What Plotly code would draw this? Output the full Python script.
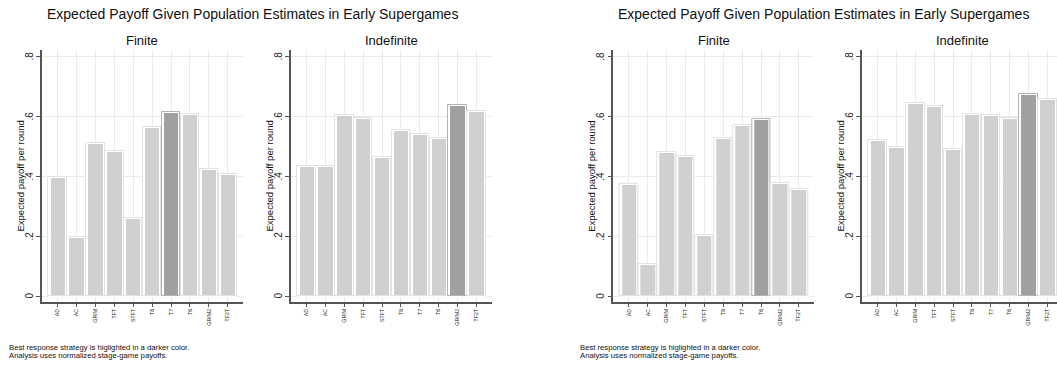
import plotly.graph_objects as go

# Strategy labels and expected payoffs per round
strategies = ["AD", "AC", "GRIM", "TFT", "STFT", "T8", "T7", "T6", "GRIM2", "TF2T"]

panel1_finite = [0.398, 0.198, 0.509, 0.482, 0.261, 0.562, 0.614, 0.608, 0.422, 0.408]
panel1_indefinite = [0.432, 0.435, 0.604, 0.595, 0.464, 0.552, 0.540, 0.528, 0.638, 0.618]
panel2_finite = [0.375, 0.108, 0.481, 0.468, 0.204, 0.528, 0.571, 0.589, 0.377, 0.358]
panel2_indefinite = [0.521, 0.498, 0.644, 0.635, 0.491, 0.608, 0.604, 0.592, 0.674, 0.658]

y_ticks = [0, 0.2, 0.4, 0.6, 0.8]
y_tick_text = ["0", ".2", ".4", ".6", ".8"]

main_title = "Expected Payoff Given Population Estimates in Early Supergames"
note_lines = ["Best response strategy is higlighted in a darker color.",
              "Analysis uses normalized stage-game payoffs."]

W, H = 1057, 367
FONT = "Liberation Sans, Arial, Helvetica, sans-serif"
LIGHT, DARK = "#d0d0d0", "#a0a0a0"
LIGHT_EDGE, DARK_EDGE = "#e2e2e2", "#b2b2b2"
AXIS = "#555555"
GRID = "#ebebeb"


def px_x(x):
    return x / W


def px_y(y):
    return 1 - y / H


# (series, subtitle, left px of plot, right px of plot, x range end)
subplots = [
    (panel1_finite, "Finite", 42.0, 243.0, 9.81),
    (panel1_indefinite, "Indefinite", 291.0, 491.7, 9.81),
    (panel2_finite, "Finite", 613.3, 814.0, 9.81),
    (panel2_indefinite, "Indefinite", 862.0, 1057.0, 9.51),
]

plot_top, plot_bottom = 50.0, 302.0
y_dom = [px_y(plot_bottom), px_y(plot_top)]

fig = go.Figure()
annotations = []

for i, (vals, sub, left, right, xend) in enumerate(subplots, start=1):
    best = max(range(len(vals)), key=lambda k: vals[k])
    fills = [DARK if k == best else LIGHT for k in range(len(vals))]
    edges = [DARK_EDGE if k == best else LIGHT_EDGE for k in range(len(vals))]
    xa = "x" if i == 1 else f"x{i}"
    ya = "y" if i == 1 else f"y{i}"

    # shaded bar with a white rim
    fig.add_trace(go.Bar(
        x=strategies, y=vals, xaxis=xa, yaxis=ya, width=0.865,
        marker=dict(color=fills, line=dict(color="white", width=2)),
        showlegend=False, hoverinfo="x+y",
    ))
    # thin outer frame
    fig.add_trace(go.Bar(
        x=strategies, y=vals, xaxis=xa, yaxis=ya, width=0.973,
        marker=dict(color="rgba(0,0,0,0)", line=dict(color=edges, width=1)),
        showlegend=False, hoverinfo="skip",
    ))

    suffix = "" if i == 1 else str(i)
    fig.update_layout(**{
        f"xaxis{suffix}": dict(
            domain=[px_x(left), px_x(right)], anchor=ya, type="category",
            categoryorder="array", categoryarray=strategies,
            range=[-0.83, xend], showgrid=True, gridcolor=GRID, gridwidth=1,
            showline=True, linecolor=AXIS, linewidth=1.5,
            ticks="outside", ticklen=3, tickcolor=AXIS, tickwidth=1,
            tickangle=-90, tickfont=dict(family=FONT, size=5.3, color="#222222"),
            fixedrange=True,
        ),
        f"yaxis{suffix}": dict(
            domain=y_dom, anchor=xa, range=[-0.02, 0.82],
            tickvals=y_ticks, showticklabels=False, showgrid=True,
            gridcolor=GRID, gridwidth=1, zeroline=False,
            showline=True, linecolor=AXIS, linewidth=1.5,
            ticks="outside", ticklen=4, tickcolor=AXIS, tickwidth=1,
            fixedrange=True,
        ),
    })

    # rotated y tick labels, placed on the axis scale
    for tv, tt in zip(y_ticks, y_tick_text):
        annotations.append(dict(
            text=tt, x=px_x(left - 13.5), y=tv, xref="paper", yref=ya,
            xanchor="center", yanchor="middle", textangle=-90,
            showarrow=False, font=dict(family=FONT, size=10, color="#222222"),
        ))

    # subplot title
    annotations.append(dict(
        text=sub, x=px_x((left + left + 200.7) / 2), y=px_y(41),
        xref="paper", yref="paper", xanchor="center", yanchor="middle",
        showarrow=False, font=dict(family=FONT, size=13, color="#111111"),
    ))
    # y-axis title
    annotations.append(dict(
        text="Expected payoff per round", x=px_x(left - 22.5), y=px_y(176),
        xref="paper", yref="paper", xanchor="center", yanchor="middle",
        textangle=-90, showarrow=False,
        font=dict(family=FONT, size=9.5, color="#111111"),
    ))

# headline and notes for each of the two graphs
for title_cx, note_x in [(252.4, 6.7), (823.8, 578.3)]:
    annotations.append(dict(
        text=main_title, x=px_x(title_cx), y=px_y(14),
        xref="paper", yref="paper", xanchor="center", yanchor="middle",
        showarrow=False, font=dict(family=FONT, size=14, color="#111111"),
    ))
    for line, ly in zip(note_lines, [347.7, 355.0]):
        annotations.append(dict(
            text=line, x=px_x(note_x), y=px_y(ly),
            xref="paper", yref="paper", xanchor="left", yanchor="middle",
            showarrow=False, font=dict(family=FONT, size=7.7, color="#111111"),
        ))

fig.update_layout(
    width=W, height=H, margin=dict(l=0, r=0, t=0, b=0),
    paper_bgcolor="white", plot_bgcolor="white",
    barmode="overlay", bargap=0, annotations=annotations,
    font=dict(family=FONT),
)

fig.write_html("out.html", config={"displayModeBar": False})
